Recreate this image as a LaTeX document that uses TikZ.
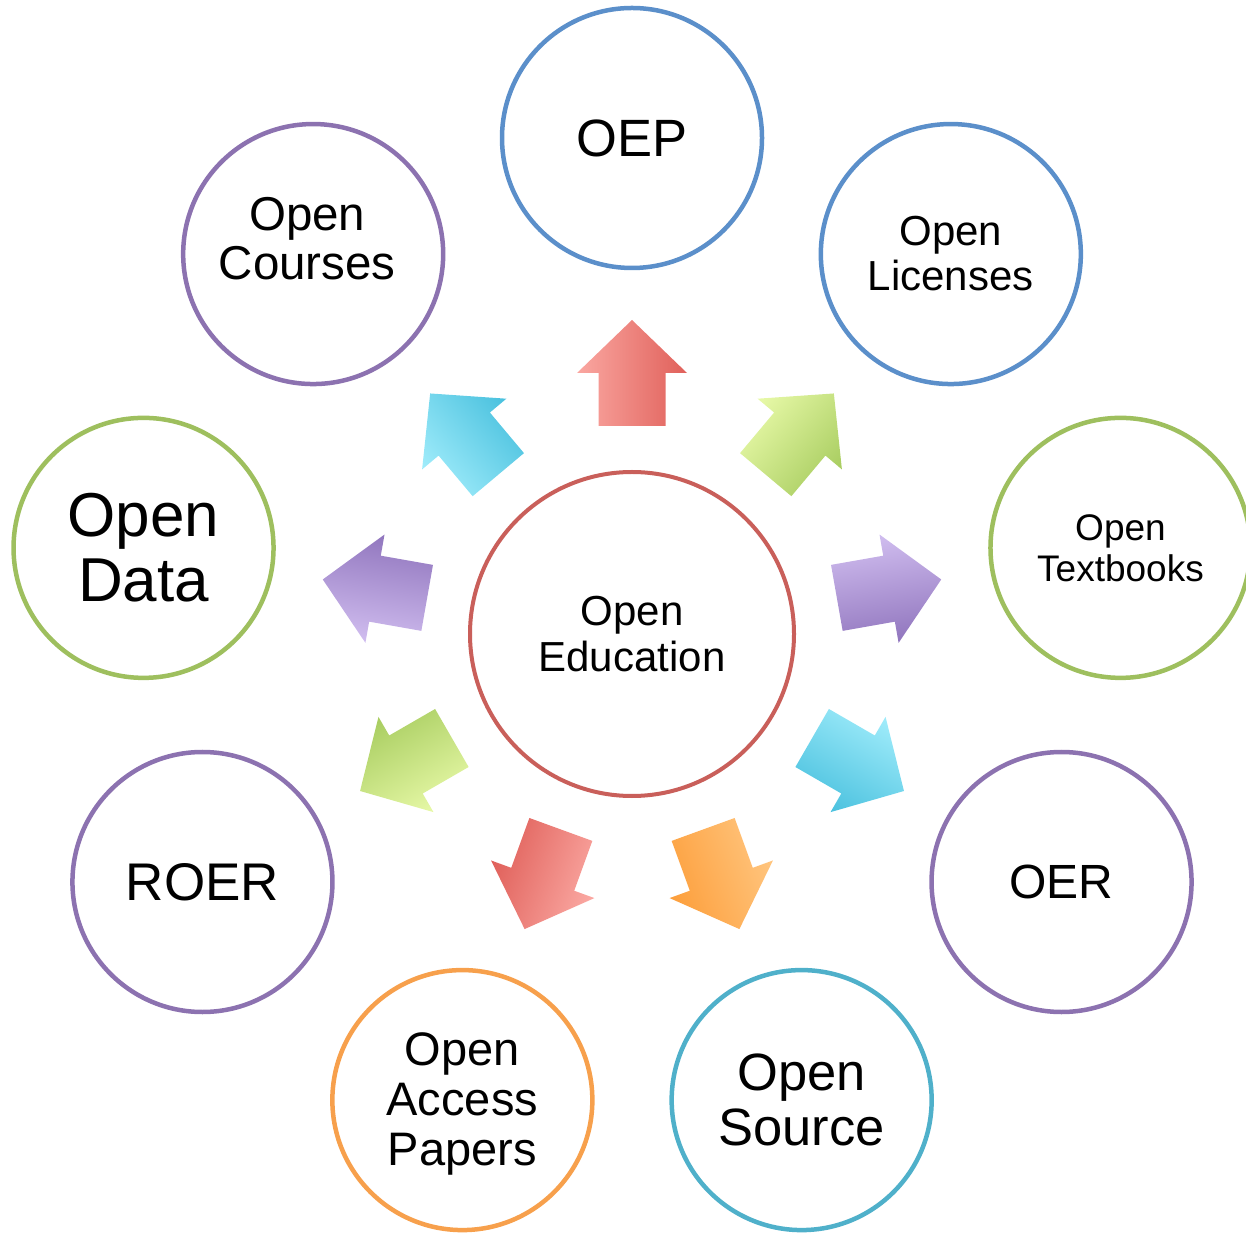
\documentclass[tikz,border=0pt]{standalone}
\usepackage{fontspec}
\setmainfont{Liberation Sans}
\usetikzlibrary{calc}
\definecolor{cblue}{HTML}{5B8FCA}
\definecolor{cgreen}{HTML}{9EBF5E}
\definecolor{cpurple}{HTML}{8C72B0}
\definecolor{cteal}{HTML}{4FB0CA}
\definecolor{corange}{HTML}{F7A04C}
\definecolor{cred}{HTML}{C95F5A}
% arrow gradients
\definecolor{redL}{HTML}{FAA7A1}\definecolor{redD}{HTML}{E0605A}
\definecolor{grnL}{HTML}{E6F8A6}\definecolor{grnD}{HTML}{AACE62}
\definecolor{purL}{HTML}{D0BDEF}\definecolor{purD}{HTML}{9176BE}
\definecolor{cyaL}{HTML}{9EEBFA}\definecolor{cyaD}{HTML}{4CC2DF}
\definecolor{oraL}{HTML}{FFC57E}\definecolor{oraD}{HTML}{FDA03E}
\newcommand{\fsz}[2]{\fontsize{#1}{#2}\selectfont}
\begin{document}
\begin{tikzpicture}[x=1pt,y=1pt,
  bub/.style={circle, draw=#1, line width=4.5pt, minimum size=260pt, inner sep=0pt,
    align=center, text=black, fill=white},
  txt/.style={align=center, text=black, inner sep=0pt},
  blockarrow/.style n args={3}{top color=#1, bottom color=#2, shading angle=#3, draw=none},
]
\useasboundingbox (0,0) rectangle (1246,1232);
\node[bub=cred, minimum size=324pt, line width=4pt, font=\fsz{42}{46}] (oe) at (632,598)
  {Open\\Education};
\node[bub=cblue, font=\fsz{52.5}{58}] (oep) at ($(oe)+(90:496)$) {OEP};
\node[bub=cblue, font=\fsz{42}{45}] (lic) at ($(oe)+(50:496)$) {Open\\Licenses};
\node[bub=cgreen, font=\fsz{37}{41}] (tb) at ($(oe)+(10:496)$) {Open\\Textbooks};
\node[bub=cpurple, font=\fsz{48}{54}] (oer) at ($(oe)+(-30:496)$) {OER};
\node[bub=cteal, font=\fsz{52.5}{55}] (os) at ($(oe)+(-70:496)$) {Open\\Source};
\node[bub=corange] (oap) at ($(oe)+(-110:496)$) {};
\node[txt, font=\fsz{47}{50}] (oapt) at ([yshift=-4]oap.center) {Open\\Access\\Papers};
\node[bub=cpurple, font=\fsz{53}{58}] (roer) at ($(oe)+(-150:496)$) {ROER};
\node[bub=cgreen, font=\fsz{62}{65}] (od) at ($(oe)+(170:496)$) {Open\\Data};
\node[bub=cpurple] (oc) at ($(oe)+(130:496)$) {};
\node[txt, font=\fsz{47.5}{49}] (oct) at ([xshift=-6,yshift=15]oc.center) {Open\\Courses};
\foreach \ang/\cl/\cd in {90/redL/redD, 50/grnL/grnD, 10/purL/purD, -30/cyaL/cyaD,
    -70/oraL/oraD, -110/redL/redD, -150/grnL/grnD, 170/purL/purD, 130/cyaL/cyaD}{
  \begin{scope}[shift={(oe.center)}, rotate=\ang]
    \shade[blockarrow={\cl}{\cd}{\ang}]
      (208,-33.5) -- (261,-33.5) -- (261,-55) -- (314,0) -- (261,55)
      -- (261,33.5) -- (208,33.5) -- cycle;
  \end{scope}
}
\end{tikzpicture}
\end{document}
